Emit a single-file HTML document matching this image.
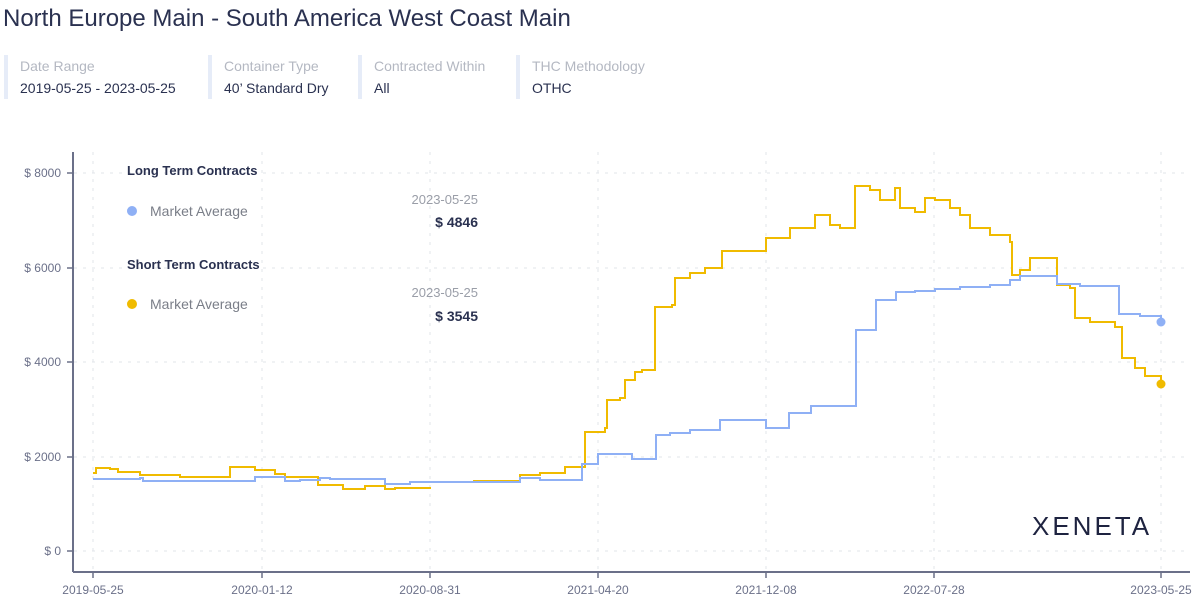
<!DOCTYPE html>
<html><head><meta charset="utf-8"><style>
body{margin:0;width:1200px;height:602px;background:#fff;font-family:"Liberation Sans",sans-serif;overflow:hidden;position:relative}
.t{position:absolute;left:3px;top:5px;font-size:24px;color:#2a3150}
.f{position:absolute;top:55px;border-left:4px solid #e6ecf8;padding-left:12px;height:44px}
.f .l{font-size:14px;color:#b4b8c2;margin-top:3px}
.f .v{font-size:14px;color:#2a3150;margin-top:6px}
</style></head><body>
<div class="t">North Europe Main - South America West Coast Main</div>
<div class="f" style="left:4px"><div class="l">Date Range</div><div class="v">2019-05-25 - 2023-05-25</div></div>
<div class="f" style="left:208px"><div class="l">Container Type</div><div class="v">40’ Standard Dry</div></div>
<div class="f" style="left:358px"><div class="l">Contracted Within</div><div class="v">All</div></div>
<div class="f" style="left:516px"><div class="l">THC Methodology</div><div class="v">OTHC</div></div>
<svg width="1200" height="602" style="position:absolute;left:0;top:0" font-family="Liberation Sans, sans-serif">
<g stroke="#e2e4ea" stroke-dasharray="3,6" stroke-width="1">
<line x1="74" y1="173" x2="1190" y2="173"/><line x1="74" y1="268" x2="1190" y2="268"/><line x1="74" y1="362" x2="1190" y2="362"/><line x1="74" y1="457" x2="1190" y2="457"/><line x1="74" y1="551" x2="1190" y2="551"/>
<line x1="93" y1="152" x2="93" y2="572"/><line x1="262" y1="152" x2="262" y2="572"/><line x1="430" y1="152" x2="430" y2="572"/><line x1="598" y1="152" x2="598" y2="572"/><line x1="766" y1="152" x2="766" y2="572"/><line x1="934" y1="152" x2="934" y2="572"/><line x1="1161" y1="152" x2="1161" y2="572"/>
</g>
<line x1="73" y1="152" x2="73" y2="572" stroke="#6b7089" stroke-width="2"/>
<line x1="73" y1="572" x2="1190" y2="572" stroke="#6b7089" stroke-width="2"/>
<g stroke="#6b7089" stroke-width="1.5"><line x1="67" y1="173" x2="73" y2="173"/><line x1="67" y1="268" x2="73" y2="268"/><line x1="67" y1="362" x2="73" y2="362"/><line x1="67" y1="457" x2="73" y2="457"/><line x1="67" y1="551" x2="73" y2="551"/>
<line x1="93" y1="572" x2="93" y2="578"/><line x1="262" y1="572" x2="262" y2="578"/><line x1="430" y1="572" x2="430" y2="578"/><line x1="598" y1="572" x2="598" y2="578"/><line x1="766" y1="572" x2="766" y2="578"/><line x1="934" y1="572" x2="934" y2="578"/><line x1="1161" y1="572" x2="1161" y2="578"/></g>
<g font-size="12" fill="#6b7089" text-anchor="end"><text x="61" y="177">$ 8000</text><text x="61" y="272">$ 6000</text><text x="61" y="366">$ 4000</text><text x="61" y="461">$ 2000</text><text x="61" y="555">$ 0</text></g>
<g font-size="12" fill="#6b7089" text-anchor="middle"><text x="93" y="594">2019-05-25</text><text x="262" y="594">2020-01-12</text><text x="430" y="594">2020-08-31</text><text x="598" y="594">2021-04-20</text><text x="766" y="594">2021-12-08</text><text x="934" y="594">2022-07-28</text><text x="1161" y="594">2023-05-25</text></g>
<text x="127" y="175" font-size="13" font-weight="bold" fill="#2a3150">Long Term Contracts</text>
<circle cx="132" cy="211" r="5" fill="#8fb0f5"/><text x="150" y="216" font-size="14" fill="#7a7e88">Market Average</text>
<text x="127" y="269" font-size="13" font-weight="bold" fill="#2a3150">Short Term Contracts</text>
<circle cx="132" cy="304" r="5" fill="#f0bb00"/><text x="150" y="309" font-size="14" fill="#7a7e88">Market Average</text>
<g text-anchor="end"><text x="478" y="204" font-size="13" fill="#9a9ea8">2023-05-25</text><text x="478" y="227" font-size="14" font-weight="bold" fill="#2a3150">$ 4846</text>
<text x="478" y="297" font-size="13" fill="#9a9ea8">2023-05-25</text><text x="478" y="321" font-size="14" font-weight="bold" fill="#2a3150">$ 3545</text></g>
<path fill="none" stroke="#f0bb00" stroke-width="2" d="M93 473 H96 V468 H110 V469 H118 V472 H140 V475 H180 V477 H230 V467 H255 V470 H275 V474 H285 V477 H318 V485 H343 V489 H365 V486 H385 V489 H395 V488 H430 V487 M473 481 H520 V475 H540 V473 H565 V467 H585 V432 H605 V428 H607 V400 H620 V398 H625 V380 H635 V372 H642 V370 H655 V307 H672 V305 H675 V278 H690 V273 H705 V268 H722 V251 H766 V238 H790 V228 H815 V215 H830 V225 H840 V228 H855 V186 H870 V190 H880 V200 H895 V188 H900 V208 H915 V212 H925 V198 H935 V200 H950 V208 H960 V215 H970 V228 H990 V235 H1010 V242 H1012 V275 H1020 V270 H1030 V258 H1057 V285 H1070 V288 H1075 V318 H1090 V322 H1115 V327 H1122 V358 H1135 V368 H1145 V376 H1161 V384"/>
<path fill="none" stroke="#8fb0f5" stroke-width="2" d="M93 479 H140 V478 H143 V481 H255 V477 H285 V481 H300 V480 H320 V478 H330 V479 H385 V484 H410 V482 H520 V478 H540 V480 H582 V464 H598 V454 H610 V454 H632 V459 H656 V435 H670 V433 H690 V430 H720 V420 H740 V420 H766 V428 H789 V413 H811 V406 H856 V330 H876 V300 H896 V292 H915 V291 H935 V289 H960 V287 H990 V285 H1010 V280 H1020 V276 H1057 V284 H1080 V286 H1119 V314 H1140 V316 H1161 V322"/>
<circle cx="1161" cy="322" r="4.5" fill="#8fb0f5"/><circle cx="1161" cy="384" r="4.5" fill="#f0bb00"/>
<text x="1032" y="535" font-size="26" fill="#1e2340" letter-spacing="3">XENETA</text>
</svg>
</body></html>
